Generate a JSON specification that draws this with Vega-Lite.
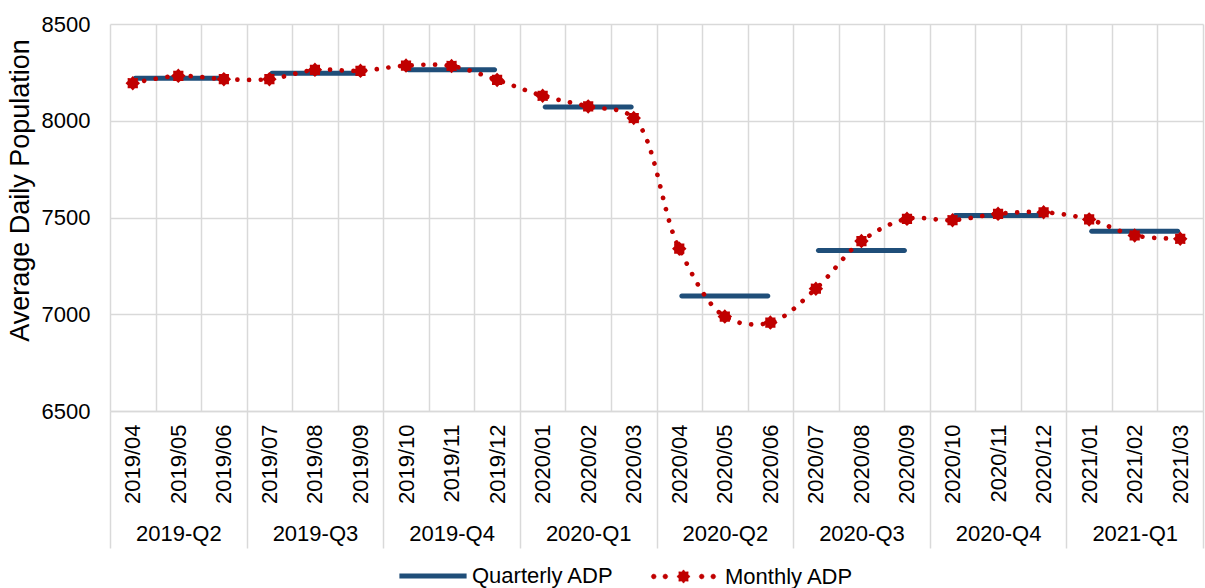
{
  "$schema": "https://vega.github.io/schema/vega-lite/v6.json",
  "width": 1093,
  "height": 387,
  "autosize": {"type": "none"},
  "padding": {"left": 110, "top": 24, "right": 2, "bottom": 177},
  "background": "white",
  "config": {
    "font": "Liberation Sans",
    "view": {"stroke": null},
    "axis": {"labelColor": "#000000", "titleColor": "#000000", "labelFont": "Liberation Sans", "titleFont": "Liberation Sans"},
    "legend": {"labelFont": "Liberation Sans", "labelColor": "#000000"}
  },
  "datasets": {
    "months": [
      {"month": "2019/04", "quarter": "2019-Q2", "monthly": 8194},
      {"month": "2019/05", "quarter": "2019-Q2", "monthly": 8232},
      {"month": "2019/06", "quarter": "2019-Q2", "monthly": 8215},
      {"month": "2019/07", "quarter": "2019-Q3", "monthly": 8215},
      {"month": "2019/08", "quarter": "2019-Q3", "monthly": 8263},
      {"month": "2019/09", "quarter": "2019-Q3", "monthly": 8258},
      {"month": "2019/10", "quarter": "2019-Q4", "monthly": 8285},
      {"month": "2019/11", "quarter": "2019-Q4", "monthly": 8283},
      {"month": "2019/12", "quarter": "2019-Q4", "monthly": 8211},
      {"month": "2020/01", "quarter": "2020-Q1", "monthly": 8129},
      {"month": "2020/02", "quarter": "2020-Q1", "monthly": 8074},
      {"month": "2020/03", "quarter": "2020-Q1", "monthly": 8014},
      {"month": "2020/04", "quarter": "2020-Q2", "monthly": 7339},
      {"month": "2020/05", "quarter": "2020-Q2", "monthly": 6988},
      {"month": "2020/06", "quarter": "2020-Q2", "monthly": 6957},
      {"month": "2020/07", "quarter": "2020-Q3", "monthly": 7132},
      {"month": "2020/08", "quarter": "2020-Q3", "monthly": 7378},
      {"month": "2020/09", "quarter": "2020-Q3", "monthly": 7493},
      {"month": "2020/10", "quarter": "2020-Q4", "monthly": 7486},
      {"month": "2020/11", "quarter": "2020-Q4", "monthly": 7519},
      {"month": "2020/12", "quarter": "2020-Q4", "monthly": 7527},
      {"month": "2021/01", "quarter": "2021-Q1", "monthly": 7490},
      {"month": "2021/02", "quarter": "2021-Q1", "monthly": 7407},
      {"month": "2021/03", "quarter": "2021-Q1", "monthly": 7390}
    ],
    "quarters": [
      {"quarter": "2019-Q2", "quarterly": 8220},
      {"quarter": "2019-Q3", "quarterly": 8246},
      {"quarter": "2019-Q4", "quarterly": 8263},
      {"quarter": "2020-Q1", "quarterly": 8071},
      {"quarter": "2020-Q2", "quarterly": 7094},
      {"quarter": "2020-Q3", "quarterly": 7330},
      {"quarter": "2020-Q4", "quarterly": 7510},
      {"quarter": "2021-Q1", "quarterly": 7429}
    ]
  },
  "resolve": {
    "scale": {"x": "independent", "color": "independent"},
    "axis": {"x": "independent"},
    "legend": {"color": "independent"}
  },
  "layer": [
    {
      "data": {"name": "quarters"},
      "mark": {"type": "tick", "thickness": 5, "size": 91, "cornerRadius": 2.5, "opacity": 1},
      "encoding": {
        "x": {
          "field": "quarter", "type": "ordinal", "sort": null,
          "scale": {"type": "band", "paddingInner": 0, "paddingOuter": 0},
          "axis": {
            "orient": "bottom", "tickBand": "extent", "grid": false, "domain": false,
            "ticks": true, "tickSize": 137, "tickColor": "#d9d9d9", "tickWidth": 1.5,
            "labelAngle": 0, "labelFontSize": 22, "labelPadding": -8, "labelBaseline": "alphabetic",
            "title": null
          }
        },
        "y": {
          "field": "quarterly", "type": "quantitative",
          "scale": {"domain": [6500, 8500], "nice": false, "zero": false},
          "axis": {
            "values": [6500, 7000, 7500, 8000, 8500], "format": "d", "grid": true, "gridColor": "#d9d9d9", "gridWidth": 1.5,
            "domain": false, "ticks": false, "labelFontSize": 22, "labelPadding": 20,
            "title": "Average Daily Population", "titleFontSize": 27, "titleFontWeight": "normal", "titlePadding": 7, "titleY": 166
          }
        },
        "color": {
          "datum": "Quarterly ADP",
          "scale": {"domain": ["Quarterly ADP"], "range": ["#1f4e79"]},
          "legend": {
            "title": null, "orient": "none", "legendX": 288, "legendY": 517,
            "padding": 0, "symbolSize": 4900, "labelFontSize": 22, "labelOffset": 4,
            "symbolType": "M-0.96,-0.07L0.96,-0.07L0.96,0.07L-0.96,0.07Z",
            "symbolFillColor": "#1f4e79", "symbolStrokeWidth": 0, "symbolOpacity": 1
          }
        }
      }
    },
    {
      "data": {"name": "months"},
      "layer": [
        {
          "mark": {"type": "line", "strokeWidth": 4.7, "strokeDash": [0.01, 11.7], "strokeCap": "round", "interpolate": "catmull-rom"},
          "encoding": {
            "x": {
              "field": "month", "type": "ordinal", "sort": null,
              "scale": {"type": "band", "paddingInner": 0, "paddingOuter": 0},
              "axis": {
                "orient": "bottom", "tickBand": "extent", "grid": true, "gridColor": "#d9d9d9", "gridWidth": 1.5,
                "domain": true, "domainColor": "#d9d9d9", "domainWidth": 1.5, "ticks": false,
                "labelAngle": 270, "labelFontSize": 22, "labelPadding": 13, "title": null
              }
            },
            "y": {"field": "monthly", "type": "quantitative"},
            "color": {
              "datum": "Monthly ADP",
              "scale": {"domain": ["Monthly ADP"], "range": ["#c00000"]},
              "legend": {
                "title": null, "orient": "none", "legendX": 538, "legendY": 517,
                "padding": 0, "symbolSize": 4900, "labelFontSize": 22, "labelOffset": 6,
                "symbolType": "M-0.78,0L-0.8,0.05L-0.85,0.07L-0.9,0.05L-0.92,0L-0.9,-0.05L-0.85,-0.07L-0.8,-0.05ZM-0.45,0L-0.47,0.05L-0.52,0.07L-0.57,0.05L-0.59,0L-0.57,-0.05L-0.52,-0.07L-0.47,-0.05ZM0.19,0L0.1293,0.0536L0.1344,0.1344L0.0536,0.1293L0,0.19L-0.0536,0.1293L-0.1344,0.1344L-0.1293,0.0536L-0.19,0L-0.1293,-0.0536L-0.1344,-0.1344L-0.0536,-0.1293L0,-0.19L0.0536,-0.1293L0.1344,-0.1344L0.1293,-0.0536ZM0.59,0L0.57,0.05L0.52,0.07L0.47,0.05L0.45,0L0.47,-0.05L0.52,-0.07L0.57,-0.05ZM0.92,0L0.9,0.05L0.85,0.07L0.8,0.05L0.78,0L0.8,-0.05L0.85,-0.07L0.9,-0.05Z",
                "symbolFillColor": "#c00000", "symbolStrokeColor": "#c00000", "symbolStrokeWidth": 0.5, "symbolDash": [], "symbolOpacity": 1
              }
            }
          }
        },
        {
          "mark": {"type": "point", "filled": true, "opacity": 1, "color": "#c00000", "size": 210,
            "shape": "M1,0L0.7,0.29L0.707,0.707L0.29,0.7L0,1L-0.29,0.7L-0.707,0.707L-0.7,0.29L-1,0L-0.7,-0.29L-0.707,-0.707L-0.29,-0.7L0,-1L0.29,-0.7L0.707,-0.707L0.7,-0.29Z"},
          "encoding": {
            "x": {"field": "month", "type": "ordinal", "sort": null},
            "y": {"field": "monthly", "type": "quantitative"}
          }
        }
      ]
    }
  ]
}
